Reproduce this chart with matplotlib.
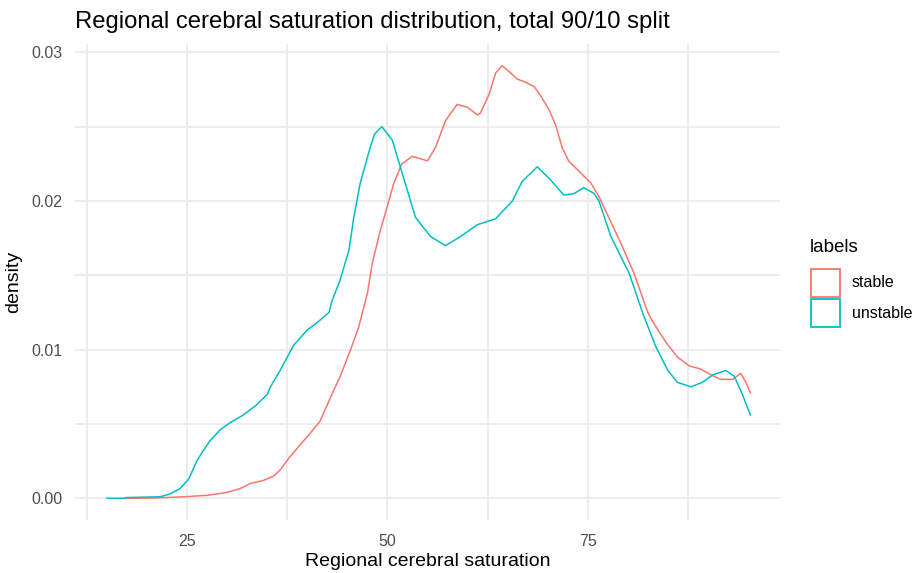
import matplotlib
matplotlib.use("Agg")
import matplotlib.pyplot as plt
from matplotlib.patches import Rectangle

plt.rcParams['font.family'] = ['Liberation Sans', 'DejaVu Sans']

# density estimates along regional cerebral saturation, one curve per label
stable_x = [17.3, 21.0, 24.5, 27.5, 30.0, 31.6, 32.9, 34.5, 35.8, 36.6, 37.7,
            39.1, 40.4, 41.6, 42.9, 44.1, 45.4, 46.4, 47.5, 48.1, 49.1, 49.8,
            50.8, 51.8, 53.1, 55.0, 56.0, 57.25, 58.7, 60.0, 61.2, 61.6, 62.7,
            63.5, 64.3, 65.2, 66.2, 67.2, 68.3, 69.1, 70.2, 71.0, 71.8, 72.6,
            74.1, 75.4, 76.4, 79.1, 80.8, 82.5, 83.1, 84.75, 86.2, 87.7, 89.1,
            90.4, 91.6, 93.1, 94.1, 94.75, 95.3]
stable_y = [0.0, 0.00002, 0.0001, 0.0002, 0.0004, 0.00065, 0.0010, 0.0012,
            0.0015, 0.0019, 0.0027, 0.0036, 0.0044, 0.0052, 0.0068, 0.0082,
            0.0100, 0.0115, 0.0138, 0.0158, 0.0180, 0.0193, 0.0212, 0.0225,
            0.0230, 0.0227, 0.0236, 0.0254, 0.0265, 0.0263, 0.0258, 0.0259,
            0.0272, 0.0286, 0.0291, 0.0287, 0.0282, 0.0280, 0.0277, 0.0271,
            0.0261, 0.0251, 0.0236, 0.0227, 0.0219, 0.0212, 0.0203, 0.0172,
            0.0151, 0.0125, 0.0119, 0.0105, 0.0095, 0.0089, 0.0087, 0.0083,
            0.0080, 0.0080, 0.0084, 0.0078, 0.0071]

unstable_x = [15.0, 17.2, 17.3, 21.6, 22.9, 24.1, 25.2, 26.2, 27.0, 27.9,
              29.1, 30.4, 32.0, 33.7, 35.0, 35.4, 36.6, 37.5, 38.3, 39.95,
              41.4, 42.7, 43.1, 44.1, 45.2, 45.8, 46.6, 47.9, 48.4, 49.3,
              50.6, 51.6, 53.5, 55.4, 57.25, 59.1, 61.2, 63.5, 65.6, 66.8,
              68.7, 70.4, 72.0, 73.3, 74.5, 75.8, 76.4, 77.9, 80.2, 81.9,
              83.5, 85.0, 86.2, 87.9, 89.3, 90.6, 92.25, 93.3, 94.3, 95.3]
unstable_y = [0.0, 0.0, 0.00005, 0.0001, 0.0003, 0.00065, 0.0013, 0.0025,
              0.0032, 0.0039, 0.0046, 0.0051, 0.0056, 0.0063, 0.0070, 0.0075,
              0.0086, 0.0095, 0.0103, 0.0113, 0.0119, 0.0125, 0.0133, 0.0147,
              0.0167, 0.0189, 0.0212, 0.0237, 0.0245, 0.0250, 0.0241, 0.0223,
              0.0189, 0.0176, 0.0170, 0.0176, 0.0184, 0.0188, 0.0200, 0.0213,
              0.0223, 0.0214, 0.0204, 0.0205, 0.0209, 0.0205, 0.0200, 0.0176,
              0.0151, 0.0124, 0.0102, 0.0086, 0.0078, 0.0075, 0.0078, 0.0083,
              0.0086, 0.0082, 0.0070, 0.0056]

labels = ["stable", "unstable"]
colors = ["#F8766D", "#00BFC4"]

W, H = 918, 573
fig = plt.figure(figsize=(W / 100, H / 100), dpi=100)
left, right, top, bottom = 75, 780, 44, 520
ax = fig.add_axes([left / W, 1 - bottom / H, (right - left) / W, (bottom - top) / H])

ax.plot(stable_x, stable_y, color=colors[0], lw=1.1)
ax.plot(unstable_x, unstable_y, color=colors[1], lw=1.1)

ax.set_xlim(11, 99)
ax.set_ylim(-0.00146, 0.03056)
ax.set_xticks([25, 50, 75])
ax.set_xticks([12.5, 37.5, 62.5, 87.5], minor=True)
ax.set_yticks([0.0, 0.01, 0.02, 0.03])
ax.set_yticks([0.005, 0.015, 0.025], minor=True)
ax.set_yticklabels(["0.00", "0.01", "0.02", "0.03"])

ax.grid(which="both", color="#EBEBEB", lw=1.3)
ax.set_axisbelow(True)
for s in ax.spines.values():
    s.set_visible(False)
ax.tick_params(which="both", length=0, labelsize=11.5, labelcolor="#4D4D4D")
ax.tick_params(axis="x", pad=10)
ax.tick_params(axis="y", pad=9)

ax.set_xlabel("Regional cerebral saturation", fontsize=14, color="black", labelpad=3)
ax.set_ylabel("density", fontsize=14, color="black", labelpad=7)
fig.text(left / W, 1 - 22 / H, "Regional cerebral saturation distribution, total 90/10 split",
         fontsize=17.2, va="center", ha="left")

# legend
fig.text(810 / W, 1 - 247 / H, "labels", fontsize=13.5, va="center", ha="left")
for i, (lab, c) in enumerate(zip(labels, colors)):
    y0 = 268 + i * 30
    fig.add_artist(Rectangle((811 / W, 1 - (y0 + 29) / H), 29 / W, 28 / H,
                             transform=fig.transFigure, facecolor="white",
                             edgecolor=c, lw=1.3))
    fig.text(852 / W, 1 - (y0 + 15) / H, lab, fontsize=11.5, va="center", ha="left",
             color="black")

fig.savefig("out.png", dpi=100)
